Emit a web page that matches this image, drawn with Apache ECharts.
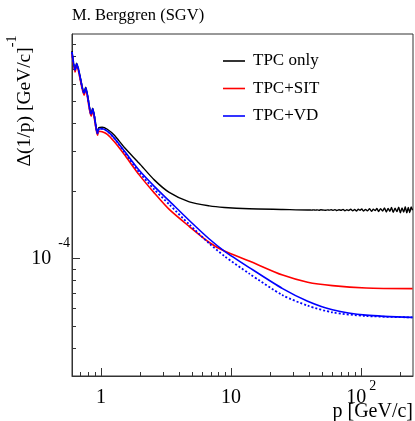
<!DOCTYPE html>
<html>
<head>
<meta charset="utf-8">
<script src="https://cdn.jsdelivr.net/npm/echarts@6/dist/echarts.min.js"></script>
<style>
  html, body { margin: 0; padding: 0; background: #fff; }
  #chart { width: 415px; height: 421px; }
</style>
</head>
<body>
<div id="chart"></div>
<script>
const FONT = "Liberation Serif";
const UNIT = 1e-4;

// momentum grid p [GeV/c]
const pGrid = [0.6, 0.634, 0.651, 0.744, 0.764, 0.842, 0.865, 0.942, 0.962, 1.023, 1.12, 1.27, 1.51,
  1.97, 2.57, 3.35, 4.78, 6.81, 8.88, 13.8, 24.9, 38.8, 60.1, 109, 248];

// resolution in units of 1e-4 (GeV/c)^-1
const resTpc = [8.40, 6.98, 7.42, 5.51, 5.80, 4.44, 4.67, 3.65, 3.825, 3.845, 3.766, 3.540, 3.130,
  2.656, 2.241, 1.971, 1.787, 1.716, 1.689, 1.667, 1.655, 1.646];
const resSit = [8.14, 6.77, 7.20, 5.34, 5.62, 4.30, 4.53, 3.54, 3.69, 3.67, 3.577, 3.312, 2.912,
  2.359, 1.961, 1.655, 1.389, 1.179, 1.080, 0.975, 0.844, 0.785, 0.758, 0.740, 0.735];
const resVd = [8.31, 6.91, 7.35, 5.45, 5.74, 4.39, 4.63, 3.61, 3.766, 3.786, 3.690, 3.433, 3.020,
  2.471, 2.097, 1.806, 1.478, 1.222, 1.080, 0.912, 0.735, 0.646, 0.592, 0.560, 0.547];
const resVdDot = [8.31, 6.91, 7.35, 5.45, 5.74, 4.39, 4.63, 3.61, 3.766, 3.786, 3.690, 3.433, 2.989,
  2.421, 2.032, 1.742, 1.418, 1.167, 1.026, 0.857, 0.687, 0.617, 0.576, 0.555, 0.547];

// TPC only gets noisy at high p
const pNoise = [40, 41.5, 43, 44.5, 46, 47.5, 49, 51, 53, 55, 57, 59, 61, 63, 65, 67.5, 70, 72.5, 75,
  77.5, 80, 83, 86, 89, 92, 95, 98, 101, 104, 108, 112, 116, 120, 124, 128, 132, 136, 141, 146, 151,
  156, 161, 166, 171, 176, 182, 188, 194, 200, 206, 212, 218, 224, 230, 236, 242, 248];
const resTpcNoise = [1.646, 1.643, 1.648, 1.644, 1.647, 1.642, 1.649, 1.645, 1.641, 1.648, 1.643, 1.650,
  1.640, 1.652, 1.637, 1.650, 1.641, 1.656, 1.634, 1.649, 1.638, 1.658, 1.632, 1.653, 1.629, 1.660,
  1.640, 1.664, 1.627, 1.655, 1.631, 1.668, 1.623, 1.660, 1.635, 1.672, 1.620, 1.668, 1.628, 1.680,
  1.612, 1.672, 1.625, 1.690, 1.606, 1.676, 1.618, 1.694, 1.600, 1.682, 1.610, 1.700, 1.598, 1.688,
  1.604, 1.697, 1.640];

const seriesNames = ["TPC only", "TPC+SIT", "TPC+VD"];

const xMajor = [1, 10, 100];
const xMajorBase = ["1", "10", "10"];
const xMajorExp = ["", "", "2"];
const xMinor = [0.6, 0.7, 0.8, 0.9, 2, 3, 4, 5, 6, 7, 8, 9, 20, 30, 40, 50, 60, 70, 80, 90, 200];
const yMajor = [1e-4];
const yMajorBase = ["10"];
const yMajorExp = ["-4"];
const yMinor = [4e-5, 5e-5, 6e-5, 7e-5, 8e-5, 9e-5, 2e-4, 3e-4, 4e-4, 5e-4, 6e-4, 7e-4, 8e-4, 9e-4];

const pairs = (xs, ys) => ys.map((y, i) => [xs[i], y * UNIT]);

const chart = echarts.init(document.getElementById("chart"));

const tickLabel = (majors, bases, exps) => (value) => {
  let i = majors.findIndex((m) => Math.abs(Math.log10(m) - Math.log10(value)) < 1e-6);
  if (i < 0) return "";
  return "{b|" + bases[i] + "}" + (exps[i] ? "{s|" + exps[i] + "}" : "");
};

const lineCommon = {
  type: "line",
  showSymbol: false,
  smooth: 0.25,
  silent: true,
};

const options = {
  animation: false,
  backgroundColor: "#fff",
  title: [
    {
      text: "M. Berggren (SGV)",
      left: 72,
      top: 7,
      padding: 0,
      textStyle: { fontFamily: FONT, fontSize: 16.5, fontWeight: "normal", color: "#000" },
    },
    {
      text: "p [GeV/c]",
      right: 2,
      top: 402,
      padding: 0,
      textStyle: { fontFamily: FONT, fontSize: 20, fontWeight: "normal", color: "#000" },
    },
  ],
  graphic: [
    {
      type: "text",
      x: 20,
      y: 101,
      rotation: Math.PI / 2,
      style: {
        text: "{t|Δ(1/p) [GeV/c]}{s|-1}",
        align: "center",
        verticalAlign: "middle",
        rich: {
          t: { fontFamily: FONT, fontSize: 19.5, fill: "#000", padding: [10, 0, 0, 0], verticalAlign: "bottom" },
          s: { fontFamily: FONT, fontSize: 14, fill: "#000", verticalAlign: "top", lineHeight: 14 },
        },
      },
    },
  ],
  legend: {
    data: seriesNames,
    orient: "vertical",
    left: 218,
    top: 47,
    icon: "rect",
    itemWidth: 22,
    itemHeight: 1.6,
    itemGap: 9.5,
    textStyle: { fontFamily: FONT, fontSize: 17, color: "#000", lineHeight: 18, padding: [0, 0, 0, 3] },
  },
  grid: {
    left: 72,
    top: 34,
    right: 2,
    bottom: 45,
    show: true,
    borderColor: "#333",
    borderWidth: 1,
    containLabel: false,
  },
  xAxis: [
    {
      type: "log",
      logBase: 10,
      min: 0.6,
      max: 250,
      axisLine: { show: true, lineStyle: { color: "#333", width: 1 } },
      axisTick: { show: true, inside: true, length: 8, customValues: xMajor, lineStyle: { color: "#333" } },
      axisLabel: {
        customValues: xMajor,
        margin: 0,
        formatter: tickLabel(xMajor, xMajorBase, xMajorExp),
        rich: {
          b: { fontFamily: FONT, fontSize: 20, color: "#000", padding: [12, 0, 0, 0], verticalAlign: "bottom" },
          s: { fontFamily: FONT, fontSize: 14, color: "#000", verticalAlign: "top", lineHeight: 14, padding: [3, 0, 0, 3] },
        },
      },
      splitLine: { show: false },
    },
    {
      type: "log",
      logBase: 10,
      min: 0.6,
      max: 250,
      position: "bottom",
      axisLine: { show: false },
      axisTick: { show: true, inside: true, length: 4, customValues: xMinor, lineStyle: { color: "#333" } },
      axisLabel: { show: false },
      splitLine: { show: false },
    },
  ],
  yAxis: [
    {
      type: "log",
      logBase: 10,
      min: 3e-5,
      max: 1e-3,
      axisLine: { show: true, lineStyle: { color: "#333", width: 1 } },
      axisTick: { show: true, inside: true, length: 8, customValues: yMajor, lineStyle: { color: "#333" } },
      axisLabel: {
        customValues: yMajor,
        margin: 2,
        formatter: tickLabel(yMajor, yMajorBase, yMajorExp),
        rich: {
          b: { fontFamily: FONT, fontSize: 20, color: "#000", padding: [12, 7, 12, 0], verticalAlign: "bottom" },
          s: { fontFamily: FONT, fontSize: 14, color: "#000", verticalAlign: "top", lineHeight: 14 },
        },
      },
      splitLine: { show: false },
    },
    {
      type: "log",
      logBase: 10,
      min: 3e-5,
      max: 1e-3,
      position: "left",
      axisLine: { show: false },
      axisTick: { show: true, inside: true, length: 4, customValues: yMinor, lineStyle: { color: "#333" } },
      axisLabel: { show: false },
      splitLine: { show: false },
    },
  ],
  series: [
    {
      ...lineCommon,
      name: seriesNames[0],
      color: "#000",
      lineStyle: { color: "#000", width: 1.4 },
      data: pairs(pGrid, resTpc).concat(pairs(pNoise, resTpcNoise)),
    },
    {
      ...lineCommon,
      name: seriesNames[1],
      color: "#ff0000",
      lineStyle: { color: "#ff0000", width: 1.6 },
      data: pairs(pGrid, resSit),
    },
    {
      ...lineCommon,
      name: "TPC+VD (dotted)",
      color: "#0000ff",
      lineStyle: { color: "#0000ff", width: 1.8, type: [2, 2] },
      data: pairs(pGrid, resVdDot),
    },
    {
      ...lineCommon,
      name: seriesNames[2],
      color: "#0000ff",
      lineStyle: { color: "#0000ff", width: 1.6 },
      data: pairs(pGrid, resVd),
    },
  ],
};

chart.setOption(options);
</script>
</body>
</html>
